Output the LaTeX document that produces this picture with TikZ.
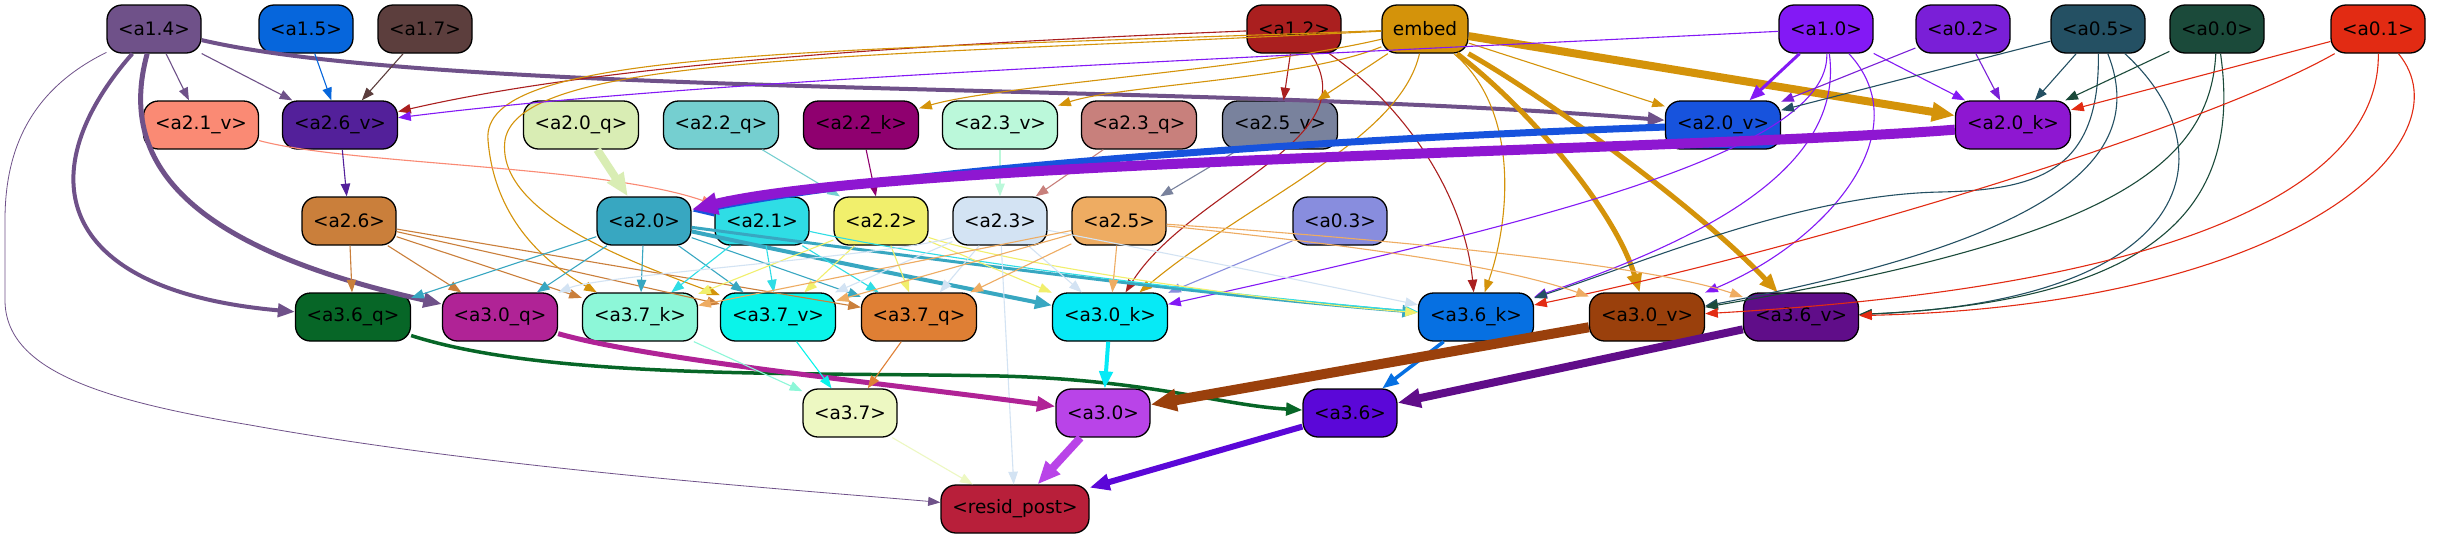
\documentclass[tikz,border=0pt]{standalone}
\usepackage{fontspec}
\setmainfont{DejaVu Sans}
\usetikzlibrary{arrows.meta}
\definecolor{c14}{HTML}{6F5189}
\definecolor{c15}{HTML}{0666DC}
\definecolor{c17}{HTML}{5C3E3D}
\definecolor{c12}{HTML}{AA1F1F}
\definecolor{cemb}{HTML}{D4930A}
\definecolor{c10}{HTML}{8319F5}
\definecolor{c02}{HTML}{7A1FD7}
\definecolor{c05}{HTML}{245063}
\definecolor{c00}{HTML}{1B4A3A}
\definecolor{c01}{HTML}{E22B13}
\definecolor{c21v}{HTML}{FA8A74}
\definecolor{c26v}{HTML}{53209A}
\definecolor{c20q}{HTML}{D9EDB4}
\definecolor{c22q}{HTML}{75CFD0}
\definecolor{c22k}{HTML}{8F006F}
\definecolor{c23v}{HTML}{BBF8DA}
\definecolor{c23q}{HTML}{C8807C}
\definecolor{c25v}{HTML}{79829D}
\definecolor{c20v}{HTML}{1753DD}
\definecolor{c20k}{HTML}{8E17D1}
\definecolor{c26}{HTML}{CA7F3B}
\definecolor{c20}{HTML}{38A7C1}
\definecolor{c21}{HTML}{2FDDE5}
\definecolor{c22}{HTML}{F1EF6C}
\definecolor{c23}{HTML}{D3E3F3}
\definecolor{c25}{HTML}{EEAC62}
\definecolor{c03}{HTML}{888DDE}
\definecolor{c36q}{HTML}{076627}
\definecolor{c30q}{HTML}{B02396}
\definecolor{c37k}{HTML}{8DF7D8}
\definecolor{c37v}{HTML}{0AF4EA}
\definecolor{c37q}{HTML}{DF7F34}
\definecolor{c30k}{HTML}{06EAF6}
\definecolor{c36k}{HTML}{0670E2}
\definecolor{c30v}{HTML}{9A400C}
\definecolor{c36v}{HTML}{600D89}
\definecolor{c37}{HTML}{EDF8C2}
\definecolor{c30}{HTML}{B944E8}
\definecolor{c36}{HTML}{5B07D8}
\definecolor{crp}{HTML}{B81F3A}
\newcommand\nodefnt{\fontsize{18.5}{22}\selectfont}
\tikzset{
  nd/.style={draw=black, line width=1.3pt, rounded corners=15pt, minimum height=48pt,
    inner sep=0pt, text=black, font=\nodefnt},
  ns/.style={nd, minimum width=94pt},
  nw/.style={nd, minimum width=115pt},
  ed/.style={draw=#1, line width=1.1pt, -{Triangle[length=11pt 1.5, width=8pt 1.3]}},
}
\begin{document}
\begin{tikzpicture}[x=1pt,y=-1pt]
\useasboundingbox[fill=white] (0,0) rectangle (2443,539);
% row 1
\node[ns, fill=c14] (a14) at (154,29) {<a1.4>};
\node[ns, fill=c15] (a15) at (306,29) {<a1.5>};
\node[ns, fill=c17] (a17) at (425,29) {<a1.7>};
\node[ns, fill=c12] (a12) at (1294,29) {<a1.2>};
\node[nd, fill=cemb, minimum width=86pt] (emb) at (1425,29) {embed};
\node[ns, fill=c10] (a10) at (1826,29) {<a1.0>};
\node[ns, fill=c02] (a02) at (1963,29) {<a0.2>};
\node[ns, fill=c05] (a05) at (2098,29) {<a0.5>};
\node[ns, fill=c00] (a00) at (2217,29) {<a0.0>};
\node[ns, fill=c01] (a01) at (2378,29) {<a0.1>};
% row 2
\node[nw, fill=c21v] (a21v) at (201,125) {<a2.1\_v>};
\node[nw, fill=c26v] (a26v) at (340,125) {<a2.6\_v>};
\node[nw, fill=c20q] (a20q) at (581,125) {<a2.0\_q>};
\node[nw, fill=c22q] (a22q) at (721,125) {<a2.2\_q>};
\node[nw, fill=c22k] (a22k) at (861,125) {<a2.2\_k>};
\node[nw, fill=c23v] (a23v) at (1000,125) {<a2.3\_v>};
\node[nw, fill=c23q] (a23q) at (1139,125) {<a2.3\_q>};
\node[nw, fill=c25v] (a25v) at (1280,125) {<a2.5\_v>};
\node[nw, fill=c20v] (a20v) at (1723,125) {<a2.0\_v>};
\node[nw, fill=c20k] (a20k) at (2013,125) {<a2.0\_k>};
% row 3
\node[ns, fill=c26] (a26) at (349,221) {<a2.6>};
\node[ns, fill=c20] (a20) at (644,221) {<a2.0>};
\node[ns, fill=c21] (a21) at (762,221) {<a2.1>};
\node[ns, fill=c22] (a22) at (881,221) {<a2.2>};
\node[ns, fill=c23] (a23) at (1000,221) {<a2.3>};
\node[ns, fill=c25] (a25) at (1119,221) {<a2.5>};
\node[ns, fill=c03] (a03) at (1340,221) {<a0.3>};
% row 4
\node[nw, fill=c36q] (a36q) at (353,317) {<a3.6\_q>};
\node[nw, fill=c30q] (a30q) at (500,317) {<a3.0\_q>};
\node[nw, fill=c37k] (a37k) at (640,317) {<a3.7\_k>};
\node[nw, fill=c37v] (a37v) at (778,317) {<a3.7\_v>};
\node[nw, fill=c37q] (a37q) at (919,317) {<a3.7\_q>};
\node[nw, fill=c30k] (a30k) at (1110,317) {<a3.0\_k>};
\node[nw, fill=c36k] (a36k) at (1476,317) {<a3.6\_k>};
\node[nw, fill=c30v] (a30v) at (1647,317) {<a3.0\_v>};
\node[nw, fill=c36v] (a36v) at (1801,317) {<a3.6\_v>};
% row 5
\node[ns, fill=c37] (a37) at (850,413) {<a3.7>};
\node[ns, fill=c30] (a30) at (1103,413) {<a3.0>};
\node[ns, fill=c36] (a36) at (1350,413) {<a3.6>};
% row 6
\node[nd, fill=crp, minimum width=148pt] (rp) at (1015,509) {<resid\_post>};

% ---- edges from row 1
\draw[ed=c14] (a14) -- (a21v);
\draw[ed=c14] (a14) -- (a26v);
\draw[ed=c14, line width=4pt] (a14) .. controls (450,98) and (1200,82) .. (a20v);
\draw[ed=c14, line width=4pt] (a14) .. controls (30,170) and (50,290) .. (a36q);
\draw[ed=c14, line width=5pt] (a14) .. controls (115,170) and (200,250) .. (a30q);
\draw[ed=c14, line width=0.8pt] (a14) .. controls (30,90) and (5,150) .. (5,220) -- (5,300)
   .. controls (5,370) and (100,400) .. (250,425) .. controls (500,470) and (800,490) .. (rp);
\draw[ed=c15] (a15) -- (a26v);
\draw[ed=c17] (a17) -- (a26v);
\draw[ed=c12] (a12) .. controls (900,45) and (600,65) .. (a26v);
\draw[ed=c12] (a12) -- (a25v);
\draw[ed=c12] (a12) .. controls (1370,140) and (1190,190) .. (a30k);
\draw[ed=c12] (a12) .. controls (1410,110) and (1465,200) .. (a36k);
\draw[ed=cemb] (emb) .. controls (1250,70) and (1000,85) .. (a22k);
\draw[ed=cemb] (emb) .. controls (1300,80) and (1120,85) .. (a23v);
\draw[ed=cemb] (emb) -- (a25v);
\draw[ed=cemb] (emb) -- (a20v);
\draw[ed=cemb, line width=8pt] (emb) -- (a20k);
\draw[ed=cemb, line width=5pt] (emb) .. controls (1530,110) and (1615,210) .. (a30v);
\draw[ed=cemb, line width=5pt] (emb) .. controls (1550,100) and (1700,210) .. (a36v);
\draw[ed=cemb] (emb) .. controls (1520,110) and (1510,220) .. (a36k);
\draw[ed=cemb] (emb) .. controls (1400,140) and (1250,200) .. (a30k);
\draw[ed=cemb] (emb) .. controls (800,52) and (480,50) .. (488,140) .. controls (494,215) and (540,260) .. (a37k);
\draw[ed=cemb] (emb) .. controls (850,58) and (520,55) .. (505,140) .. controls (495,215) and (640,265) .. (a37v);
\draw[ed=c10] (a10) .. controls (1200,60) and (700,80) .. (a26v);
\draw[ed=c10, line width=3pt] (a10) -- (a20v);
\draw[ed=c10] (a10) -- (a20k);
\draw[ed=c10] (a10) .. controls (1830,150) and (1550,220) .. (a30k);
\draw[ed=c10] (a10) .. controls (1845,170) and (1700,240) .. (a36k);
\draw[ed=c10] (a10) .. controls (1920,130) and (1830,240) .. (a30v);
\draw[ed=c02] (a02) -- (a20v);
\draw[ed=c02] (a02) -- (a20k);
\draw[ed=c05] (a05) -- (a20v);
\draw[ed=c05] (a05) -- (a20k);
\draw[ed=c05] (a05) .. controls (2100,170) and (2040,190) .. (1940,192) .. controls (1800,195) and (1650,260) .. (a36k);
\draw[ed=c05] (a05) .. controls (2150,160) and (2050,240) .. (a30v);
\draw[ed=c05] (a05) .. controls (2230,150) and (2200,300) .. (a36v);
\draw[ed=c00] (a00) -- (a20k);
\draw[ed=c00] (a00) .. controls (2210,170) and (2100,240) .. (a30v);
\draw[ed=c00] (a00) .. controls (2240,190) and (2180,300) .. (a36v);
\draw[ed=c01] (a01) -- (a20k);
\draw[ed=c01] (a01) .. controls (2200,130) and (1800,250) .. (a36k);
\draw[ed=c01] (a01) .. controls (2380,180) and (2200,285) .. (a30v);
\draw[ed=c01] (a01) .. controls (2470,140) and (2300,305) .. (a36v);
\draw[ed=c03] (a03) -- (a30k);
% ---- row 2 -> row 3
\draw[ed=c21v] (a21v) .. controls (350,165) and (600,165) .. (a21);
\draw[ed=c26v] (a26v) -- (a26);
\draw[ed=c20q, line width=8pt] (a20q) -- (a20);
\draw[ed=c22q] (a22q) -- (a22);
\draw[ed=c22k] (a22k) -- (a22);
\draw[ed=c23v] (a23v) -- (a23);
\draw[ed=c23q] (a23q) -- (a23);
\draw[ed=c25v] (a25v) -- (a25);
\draw[ed=c20v, line width=7pt] (a20v) .. controls (1300,140) and (900,170) .. (a20);
\draw[ed=c20k, line width=10pt] (a20k) .. controls (1700,150) and (900,160) .. (a20);
% ---- row 3 -> row 4
\draw[ed=c26] (a26) -- (a36q);
\draw[ed=c26] (a26) -- (a30q);
\draw[ed=c26] (a26) -- (a37k);
\draw[ed=c26] (a26) -- (a37v);
\draw[ed=c26] (a26) -- (a37q);
\draw[ed=c20] (a20) -- (a36q);
\draw[ed=c20] (a20) -- (a30q);
\draw[ed=c20] (a20) -- (a37k);
\draw[ed=c20] (a20) -- (a37v);
\draw[ed=c20] (a20) -- (a37q);
\draw[ed=c20, line width=4pt] (a20) .. controls (800,255) and (950,285) .. (a30k);
\draw[ed=c20, line width=3pt] (a20) .. controls (900,255) and (1200,295) .. (a36k);
\draw[ed=c21] (a21) -- (a37k);
\draw[ed=c21] (a21) -- (a37v);
\draw[ed=c21] (a21) -- (a37q);
\draw[ed=c21] (a21) .. controls (950,262) and (1200,292) .. (a36k);
\draw[ed=c22] (a22) -- (a37k);
\draw[ed=c22] (a22) -- (a37v);
\draw[ed=c22] (a22) -- (a37q);
\draw[ed=c22] (a22) -- (a30k);
\draw[ed=c22] (a22) .. controls (1000,262) and (1250,300) .. (a36k);
\draw[ed=c23] (a23) .. controls (900,255) and (600,275) .. (a30q);
\draw[ed=c23] (a23) -- (a37v);
\draw[ed=c23] (a23) -- (a37q);
\draw[ed=c23] (a23) -- (a30k);
\draw[ed=c23] (a23) .. controls (1150,250) and (1300,280) .. (a36k);
\draw[ed=c23] (a23) -- (rp);
\draw[ed=c25] (a25) -- (a37k);
\draw[ed=c25] (a25) -- (a37v);
\draw[ed=c25] (a25) -- (a37q);
\draw[ed=c25] (a25) -- (a30k);
\draw[ed=c25] (a25) .. controls (1350,245) and (1500,265) .. (a30v);
\draw[ed=c25] (a25) .. controls (1400,240) and (1650,265) .. (a36v);
% ---- row 4 -> row 5
\draw[ed=c36q, line width=3.5pt] (a36q) .. controls (550,380) and (800,372) .. (1000,376)
   .. controls (1150,380) and (1220,405) .. (a36);
\draw[ed=c30q, line width=5pt] (a30q) .. controls (650,360) and (900,385) .. (a30);
\draw[ed=c37k] (a37k) -- (a37);
\draw[ed=c37v] (a37v) -- (a37);
\draw[ed=c37q] (a37q) -- (a37);
\draw[ed=c30k, line width=4pt] (a30k) -- (a30);
\draw[ed=c36k, line width=3.5pt] (a36k) -- (a36);
\draw[ed=c30v, line width=10pt] (a30v) -- (a30);
\draw[ed=c36v, line width=8pt] (a36v) -- (a36);
% ---- row 5 -> resid_post
\draw[ed=c37] (a37) -- (rp);
\draw[ed=c30, line width=8pt] (a30) -- (rp);
\draw[ed=c36, line width=6pt] (a36) -- (rp);
\end{tikzpicture}
\end{document}
